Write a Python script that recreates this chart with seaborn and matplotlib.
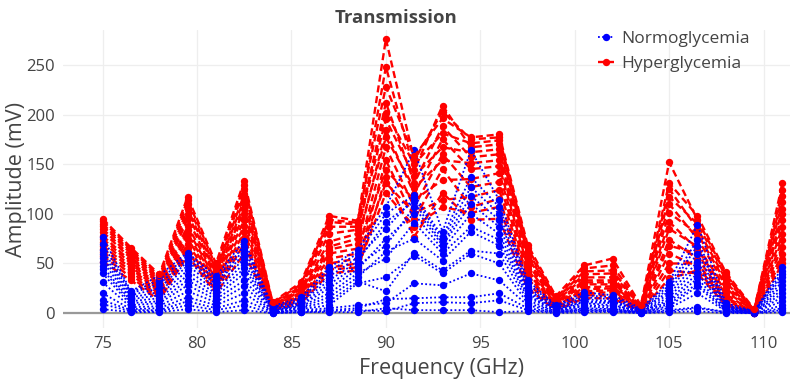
import matplotlib
matplotlib.use("Agg")
import matplotlib.pyplot as plt
import pandas as pd
import seaborn as sns
from matplotlib.lines import Line2D

# Sweep frequencies (GHz)
freq_ghz = [75, 76.5, 78, 79.5, 81, 82.5, 84, 85.5, 87, 88.5, 90, 91.5, 93,
            94.5, 96, 97.5, 99, 100.5, 102, 103.5, 105, 106.5, 108, 109.5, 111]

# Transmitted amplitude (mV) per measurement, normoglycemic samples
normo_traces = [
    [4, 1, 1, 4, 1, 3, 0, 1, 1, 1, 5, 3, 3, 3, 1, 2, 0, 1, 1, 0, 1, 2, 0, 0, 1],
    [9, 2, 2, 8, 3, 8, 0, 1, 2, 3, 2, 10, 11, 10, 13, 3, 1, 2, 2, 0, 2, 5, 1, 0, 3],
    [13, 3, 3, 12, 5, 13, 1, 2, 3, 5, 14, 15, 16, 16, 20, 5, 1, 3, 2, 1, 3, 6, 1, 0, 5],
    [20, 4, 5, 16, 8, 20, 1, 3, 5, 8, 10, 30, 28, 40, 33, 8, 1, 4, 3, 1, 5, 20, 2, 0, 8],
    [31, 6, 7, 22, 11, 27, 1, 4, 8, 30, 36, 58, 40, 60, 50, 10, 2, 5, 4, 1, 7, 27, 2, 1, 12],
    [40, 8, 10, 28, 14, 33, 2, 5, 12, 32, 22, 61, 43, 63, 60, 13, 2, 7, 5, 1, 9, 30, 3, 1, 16],
    [44, 10, 12, 33, 17, 40, 2, 6, 16, 36, 62, 75, 53, 82, 68, 16, 3, 8, 7, 2, 11, 35, 3, 1, 20],
    [47, 12, 15, 38, 20, 45, 3, 7, 20, 40, 55, 91, 60, 87, 74, 18, 3, 10, 8, 2, 13, 40, 4, 1, 24],
    [52, 14, 18, 43, 23, 50, 3, 8, 25, 44, 75, 100, 64, 100, 80, 20, 4, 11, 10, 2, 16, 46, 5, 1, 28],
    [56, 16, 21, 48, 26, 55, 4, 9, 29, 48, 68, 107, 68, 110, 87, 22, 4, 12, 11, 3, 19, 52, 5, 1, 32],
    [60, 18, 25, 52, 29, 60, 4, 11, 33, 52, 92, 112, 70, 118, 94, 24, 5, 14, 12, 3, 22, 60, 6, 2, 36],
    [64, 20, 29, 55, 31, 64, 5, 12, 37, 56, 85, 116, 74, 127, 100, 26, 6, 16, 14, 3, 25, 68, 7, 2, 39],
    [70, 21, 33, 58, 34, 68, 6, 14, 42, 60, 100, 119, 77, 137, 107, 30, 7, 18, 16, 4, 28, 74, 8, 2, 42],
    [77, 22, 38, 61, 37, 73, 7, 16, 46, 64, 107, 164, 82, 164, 114, 33, 8, 21, 18, 5, 31, 89, 10, 2, 46],
]

# Transmitted amplitude (mV) per measurement, hyperglycemic samples
hyper_traces = [
    [52, 33, 13, 58, 20, 60, 3, 10, 40, 43, 137, 77, 121, 94, 95, 25, 3, 15, 15, 1, 43, 40, 8, 0, 55],
    [58, 36, 15, 62, 23, 70, 4, 12, 44, 46, 121, 87, 107, 101, 107, 30, 4, 18, 18, 2, 35, 43, 10, 0, 50],
    [62, 39, 17, 66, 26, 76, 4, 13, 46, 50, 154, 95, 145, 107, 115, 35, 5, 20, 21, 2, 60, 47, 12, 1, 67],
    [65, 42, 19, 70, 28, 82, 5, 15, 50, 55, 131, 101, 114, 117, 124, 38, 6, 22, 23, 3, 50, 50, 14, 1, 60],
    [68, 45, 21, 75, 30, 88, 5, 16, 55, 60, 167, 107, 160, 127, 132, 41, 7, 24, 25, 3, 74, 55, 16, 1, 80],
    [72, 47, 23, 80, 32, 94, 6, 18, 60, 65, 144, 114, 134, 135, 141, 44, 8, 26, 27, 3, 68, 60, 19, 1, 74],
    [75, 50, 25, 84, 34, 100, 6, 19, 64, 70, 184, 120, 175, 145, 148, 47, 9, 29, 29, 4, 92, 64, 22, 2, 94],
    [78, 52, 27, 88, 36, 105, 7, 21, 67, 75, 177, 126, 154, 151, 154, 50, 10, 31, 31, 4, 85, 67, 25, 2, 87],
    [82, 55, 29, 95, 38, 110, 7, 22, 72, 80, 212, 131, 188, 157, 160, 54, 11, 33, 33, 5, 110, 75, 28, 2, 105],
    [85, 57, 31, 100, 40, 115, 8, 24, 80, 84, 195, 138, 167, 162, 165, 57, 12, 36, 36, 5, 101, 80, 31, 2, 100],
    [88, 60, 33, 105, 42, 120, 8, 25, 87, 87, 248, 144, 209, 167, 170, 60, 13, 39, 40, 6, 125, 85, 34, 3, 118],
    [90, 62, 35, 110, 44, 125, 9, 27, 92, 89, 202, 150, 181, 171, 174, 63, 14, 42, 43, 6, 117, 90, 37, 3, 112],
    [93, 64, 37, 114, 47, 129, 10, 29, 94, 91, 276, 154, 203, 175, 177, 66, 15, 45, 48, 7, 152, 94, 39, 3, 131],
    [95, 66, 39, 117, 50, 133, 11, 31, 98, 93, 228, 158, 196, 177, 180, 69, 17, 48, 55, 8, 131, 98, 41, 4, 124],
]

groups = ["Normoglycemia", "Hyperglycemia"]

rows = []
for group, traces in zip(groups, (normo_traces, hyper_traces)):
    for k, trace in enumerate(traces):
        for f, v in zip(freq_ghz, trace):
            rows.append((group, k, f, v))
df = pd.DataFrame(rows, columns=["group", "trace", "freq", "amp"])

sns.set_theme(style="white")
plt.rcParams["font.family"] = ["Open Sans", "DejaVu Sans"]

text_col = "#444444"
line_style = {
    "Normoglycemia": dict(color="#0000ff", linestyle=(0, (1.0, 1.3)), linewidth=1.3),
    "Hyperglycemia": dict(color="#ff0000", linestyle=(0, (3.0, 1.6)), linewidth=1.7),
}
marker_size = 5.3

fig = plt.figure(figsize=(7.92, 3.81), dpi=100)
ax = fig.add_axes([0.0795, 0.139, 0.918, 0.782])

# One trace per sample, the two groups interleaved
for k in range(len(normo_traces)):
    for group in groups:
        sub = df[(df["group"] == group) & (df["trace"] == k)]
        sns.lineplot(data=sub, x="freq", y="amp", ax=ax, estimator=None,
                     sort=False, legend=False, marker="o", markersize=marker_size,
                     markeredgewidth=0, zorder=3, **line_style[group])

ax.axhline(0, color="#999999", linewidth=1.6, zorder=1)
ax.set_xlim(72.9, 111.4)
ax.set_ylim(-15, 285)
ax.set_xticks([75, 80, 85, 90, 95, 100, 105, 110])
ax.set_yticks([0, 50, 100, 150, 200, 250])
ax.grid(True, color="#eeeeee", linewidth=0.9, zorder=0)
for s in ax.spines.values():
    s.set_visible(False)
ax.tick_params(length=0, labelsize=12, colors=text_col, pad=6)

ax.set_xlabel("Frequency (GHz)", fontsize=15.5, color=text_col)
ax.set_ylabel("Amplitude (mV)", fontsize=15.5, color=text_col)
ax.xaxis.set_label_coords(0.52, -0.1)
ax.yaxis.set_label_coords(-0.05, 0.5)

fig.text(0.5, 0.952, "Transmission", ha="center", va="center",
         fontsize=13.3, fontweight="bold", color=text_col)

handles = [
    Line2D([], [], marker="o", markersize=marker_size, markeredgewidth=0,
           **line_style[g])
    for g in groups
]
ax.legend(handles, groups, loc="upper left", bbox_to_anchor=(0.714, 1.05),
          frameon=False, fontsize=12.5, handlelength=0.95, handletextpad=0.4,
          labelspacing=0.52, labelcolor=text_col)

fig.savefig("out.png", dpi=100)
